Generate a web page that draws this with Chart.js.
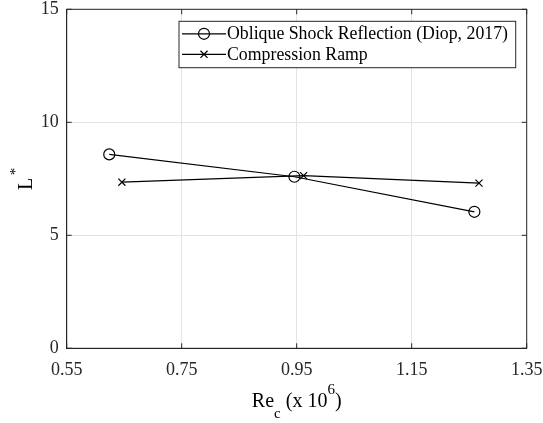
<!DOCTYPE html>
<html>
<head>
<meta charset="utf-8">
<script src="https://cdn.jsdelivr.net/npm/chart.js@4.4.0/dist/chart.umd.min.js"></script>
<style>
    html, body { margin: 0; padding: 0; background: #fff; }
    #wrap { width: 543px; height: 423px; }
</style>
</head>
<body>
<div id="wrap"><canvas id="chart" width="543" height="423"></canvas></div>
<script>
'use strict';

// tick labels
const xTicks = [0.55, 0.75, 0.95, 1.15, 1.35];
const yTicks = [0, 5, 10, 15];

// Oblique Shock Reflection (Diop, 2017)
const shockRe = [0.624, 0.946, 1.259];
const shockL = [8.58, 7.59, 6.04];

// Compression Ramp
const rampRe = [0.646, 0.962, 1.267];
const rampL = [7.35, 7.64, 7.31];

const seriesNames = ['Oblique Shock Reflection (Diop, 2017)', 'Compression Ramp'];

const SERIF = "'Liberation Serif', 'Times New Roman', serif";
const INK = '#000000';
const AXIS = '#262626';

function toPoints(xs, ys) {
    return xs.map((x, i) => ({ x, y: ys[i] }));
}

function drawMarker(ctx, style, x, y, r) {
    ctx.beginPath();
    if (style === 'circle') {
        ctx.arc(x, y, r, 0, Math.PI * 2);
    } else {
        const o = Math.cos(Math.PI / 4) * r;
        ctx.moveTo(x - o, y - o); ctx.lineTo(x + o, y + o);
        ctx.moveTo(x - o, y + o); ctx.lineTo(x + o, y - o);
    }
    ctx.stroke();
}

// draws a run of [text, size, baselineShift] pieces centred on x
function drawRich(ctx, pieces, x, y) {
    let total = 0;
    pieces.forEach(p => { ctx.font = `${p[1]}px ${SERIF}`; total += ctx.measureText(p[0]).width; });
    let cx = x - total / 2;
    pieces.forEach(p => {
        ctx.font = `${p[1]}px ${SERIF}`;
        ctx.fillText(p[0], cx, y + p[2]);
        cx += ctx.measureText(p[0]).width;
    });
}

// no extra room for overhanging tick labels, chart area is set by layout padding
function noOverhang(s) {
    s.paddingLeft = 0; s.paddingRight = 0; s.paddingTop = 0; s.paddingBottom = 0;
}

const matlabLook = {
    id: 'matlabLook',
    afterDatasetsDraw(chart) {
        const { ctx, chartArea: a, scales } = chart;
        ctx.save();
        // box + inward ticks
        ctx.strokeStyle = AXIS;
        ctx.lineWidth = 1;
        ctx.strokeRect(a.left, a.top, a.right - a.left, a.bottom - a.top);
        ctx.beginPath();
        xTicks.forEach(v => {
            const px = scales.x.getPixelForValue(v);
            ctx.moveTo(px, a.bottom); ctx.lineTo(px, a.bottom - 5);
            ctx.moveTo(px, a.top); ctx.lineTo(px, a.top + 5);
        });
        yTicks.forEach(v => {
            const py = scales.y.getPixelForValue(v);
            ctx.moveTo(a.left, py); ctx.lineTo(a.left + 5, py);
            ctx.moveTo(a.right, py); ctx.lineTo(a.right - 5, py);
        });
        ctx.stroke();

        // legend
        const lx = 179, ly = 21.3, lw = 336.7, lh = 46.4;
        ctx.fillStyle = '#fff';
        ctx.fillRect(lx, ly, lw, lh);
        ctx.strokeStyle = AXIS;
        ctx.strokeRect(lx, ly, lw, lh);
        const rows = [33.8, 54.3];
        chart.data.datasets.forEach((ds, i) => {
            const y = rows[i];
            ctx.strokeStyle = INK;
            ctx.lineWidth = ds.borderWidth;
            ctx.beginPath();
            ctx.moveTo(182, y); ctx.lineTo(226, y);
            ctx.stroke();
            drawMarker(ctx, ds.pointStyle, 204, y, ds.pointRadius);
            ctx.fillStyle = INK;
            ctx.font = `17.8px ${SERIF}`;
            ctx.textBaseline = 'middle';
            ctx.textAlign = 'left';
            ctx.fillText(seriesNames[i], 227, y + 1);
        });

        // axis titles with sub/superscripts
        ctx.fillStyle = INK;
        ctx.textAlign = 'left';
        ctx.textBaseline = 'alphabetic';
        const midX = (a.left + a.right) / 2;
        drawRich(ctx, [['Re', 20, 0], ['c', 15, 11], [' (x 10', 20, 0], ['6', 15, -13], [')', 20, 0]], midX, 407);

        ctx.save();
        ctx.translate(31.7, (a.top + a.bottom) / 2);
        ctx.rotate(-Math.PI / 2);
        drawRich(ctx, [['L', 20, 0], [' ', 10, 0], ['*', 15, -11.5]], 0, 0);
        ctx.restore();
        ctx.restore();
    }
};

new Chart(document.getElementById('chart'), {
    type: 'scatter',
    data: {
        datasets: [
            {
                label: seriesNames[0],
                data: toPoints(shockRe, shockL),
                showLine: true,
                borderColor: INK, borderWidth: 1.2,
                pointStyle: 'circle', pointRadius: 5.5,
                pointBorderColor: INK, pointBackgroundColor: 'rgba(0,0,0,0)', pointBorderWidth: 1.2
            },
            {
                label: seriesNames[1],
                data: toPoints(rampRe, rampL),
                showLine: true,
                borderColor: INK, borderWidth: 1.2,
                pointStyle: 'crossRot', pointRadius: 5,
                pointBorderColor: INK, pointBackgroundColor: 'rgba(0,0,0,0)', pointBorderWidth: 1.2
            }
        ]
    },
    options: {
        responsive: false,
        animation: false,
        layout: { padding: { left: 0, top: 9.3, right: 16.3, bottom: 0 } },
        plugins: { legend: { display: false }, tooltip: { enabled: false } },
        scales: {
            x: {
                type: 'linear', min: 0.55, max: 1.35,
                afterBuildTicks: (s) => { s.ticks = xTicks.map(v => ({ value: v })); },
                afterFit: (s) => { s.height = 74.7; noOverhang(s); },
                ticks: { color: AXIS, font: { family: SERIF, size: 18 }, padding: 11, maxRotation: 0,
                         callback: (v) => Number(v).toFixed(2) },
                grid: { color: '#e3e3e3', drawTicks: false },
                border: { display: true, color: AXIS, width: 1 }
            },
            y: {
                type: 'linear', min: 0, max: 15,
                afterBuildTicks: (s) => { s.ticks = yTicks.map(v => ({ value: v })); },
                afterFit: (s) => { s.width = 66.7; noOverhang(s); },
                ticks: { color: AXIS, font: { family: SERIF, size: 18 }, padding: 8,
                         callback: (v) => String(v) },
                grid: { color: '#e3e3e3', drawTicks: false },
                border: { display: true, color: AXIS, width: 1 }
            }
        }
    },
    plugins: [matlabLook]
});
</script>
</body>
</html>
